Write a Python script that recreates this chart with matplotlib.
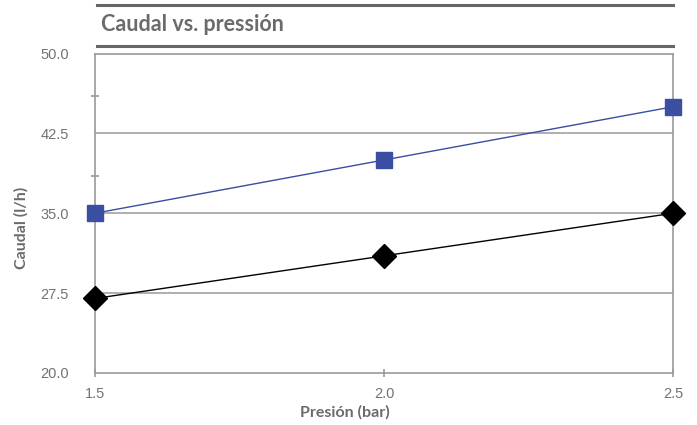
import matplotlib
matplotlib.use("Agg")
import matplotlib.pyplot as plt
from matplotlib.lines import Line2D

# Data
presion = [1.5, 2.0, 2.5]
caudal_azul = [35.0, 40.0, 45.0]
caudal_negro = [27.0, 31.0, 35.0]
y_major = [20.0, 27.5, 35.0, 42.5, 50.0]
y_minor = [38.5, 46.0]
x_ticks = [1.5, 2.0, 2.5]

title = "Caudal vs. pressión"
xlabel = "Presión (bar)"
ylabel = "Caudal (l/h)"

W, H = 697, 425
fig = plt.figure(figsize=(W / 100, H / 100), dpi=100)

def fx(px):
    return px / W

def fy(py):
    return 1 - py / H

left, right, top, bottom = 95, 673, 53.5, 373
ax = fig.add_axes([fx(left), fy(bottom), fx(right - left), (bottom - top) / H])

grid_c = "#9a9a9a"
text_c = "#6b6b6b"

ax.plot(presion, caudal_azul, color="#3a4ea2", lw=1.0, marker="s", ms=11,
        markerfacecolor="#3a4ea2", markeredgecolor="#3a4ea2", zorder=5, clip_on=False)
ax.plot(presion, caudal_negro, color="black", lw=1.0, marker="D", ms=12,
        markerfacecolor="black", markeredgecolor="black", zorder=5, clip_on=False)

ax.set_xlim(1.5, 2.5)
ax.set_ylim(20, 50)
ax.set_xticks(x_ticks)
ax.set_xticklabels([f"{v:.1f}" for v in x_ticks])
ax.set_yticks(y_major)
ax.set_yticklabels([f"{v:.1f}" for v in y_major])
ax.set_yticks(y_minor, minor=True)

for v in y_major[1:-1]:
    ax.axhline(v, color=grid_c, lw=1.1, zorder=1)

for s in ax.spines.values():
    s.set_color(grid_c)
    s.set_linewidth(1.2)

ax.tick_params(axis="y", which="major", length=0, pad=19, labelsize=10.5, labelcolor="#737373",
               labelfontfamily="Liberation Sans")
ax.tick_params(axis="y", which="minor", direction="inout", length=6, width=1.2, color=grid_c)
ax.tick_params(axis="x", which="major", direction="inout", length=6, width=1.2, color=grid_c,
               pad=7, labelsize=10.5, labelcolor="#737373", labelfontfamily="Liberation Sans")

fig.text(fx(345), fy(412), xlabel, ha="center", va="center", fontsize=11.5,
         fontweight="bold", color=text_c, family="Lato")
fig.text(fx(21), fy(228), ylabel, ha="center", va="center", rotation=90, fontsize=11.5,
         fontweight="bold", color=text_c, family="Lato")

# Title band
fig.add_artist(Line2D([fx(97), fx(673)], [fy(4.5), fy(4.5)], color="#666666", lw=2.2))
fig.add_artist(Line2D([fx(97), fx(673)], [fy(46), fy(46)], color="#666666", lw=2.2))
fig.text(fx(101), fy(24.5), title, ha="left", va="center", fontsize=15.5,
         fontweight="bold", color=text_c, family="Lato")

fig.savefig("out.png", dpi=100)
